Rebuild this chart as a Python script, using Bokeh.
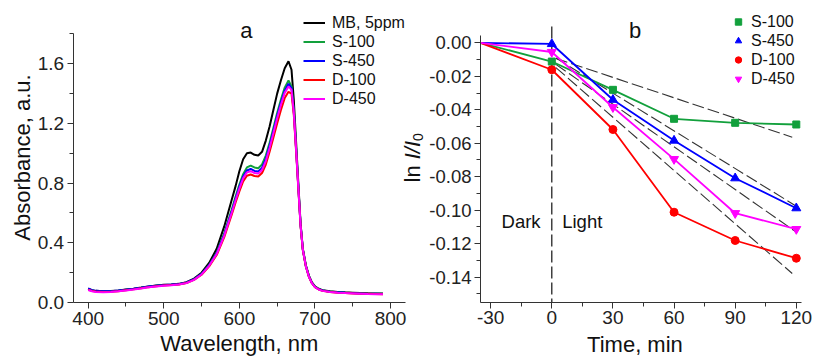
import math
from bokeh.plotting import figure
from bokeh.models import (Range1d, FixedTicker, NumeralTickFormatter, Label, Legend,
                          LegendItem, LinearAxis)
from bokeh.embed import file_html
from bokeh.resources import INLINE

# ---------------- Panel a data: UV-vis spectra ----------------
wavelength = [400, 405, 410, 420, 430, 440, 450, 460, 470, 480, 490, 500, 510, 520, 530, 540,
              550, 560, 570, 580, 585, 590, 595, 600, 605, 610, 615, 620, 625, 630, 635, 640,
              645, 650, 655, 660, 665, 669, 672, 675, 678, 681, 684, 688, 692, 696, 700, 705,
              710, 720, 730, 740, 750, 760, 770, 780, 790]
abs_mb = [0.092, 0.082, 0.078, 0.075, 0.077, 0.081, 0.087, 0.093, 0.100, 0.108,
          0.114, 0.119, 0.121, 0.125, 0.136, 0.160, 0.200, 0.265, 0.360, 0.510,
          0.600, 0.690, 0.780, 0.880, 0.960, 1.000, 1.005, 0.990, 0.985, 1.010,
          1.085, 1.180, 1.290, 1.400, 1.490, 1.570, 1.617, 1.560, 1.360, 1.080,
          0.800, 0.530, 0.360, 0.250, 0.180, 0.135, 0.108, 0.092, 0.083, 0.075,
          0.071, 0.068, 0.066, 0.064, 0.062, 0.061, 0.060]
abs_s100 = [0.090, 0.080, 0.076, 0.073, 0.075, 0.079, 0.085, 0.091, 0.098, 0.106,
            0.112, 0.117, 0.119, 0.123, 0.133, 0.155, 0.192, 0.252, 0.335, 0.465,
            0.545, 0.625, 0.710, 0.790, 0.860, 0.905, 0.918, 0.905, 0.900, 0.925,
            0.985, 1.070, 1.170, 1.270, 1.360, 1.440, 1.488, 1.450, 1.290, 1.040,
            0.780, 0.520, 0.355, 0.245, 0.176, 0.132, 0.106, 0.090, 0.081, 0.073,
            0.069, 0.066, 0.064, 0.062, 0.060, 0.059, 0.058]
abs_s450 = [0.094, 0.083, 0.078, 0.075, 0.076, 0.080, 0.086, 0.092, 0.099, 0.107,
            0.113, 0.118, 0.120, 0.124, 0.134, 0.156, 0.192, 0.250, 0.330, 0.455,
            0.535, 0.612, 0.695, 0.775, 0.845, 0.885, 0.895, 0.882, 0.878, 0.902,
            0.962, 1.050, 1.150, 1.250, 1.340, 1.420, 1.466, 1.435, 1.280, 1.035,
            0.775, 0.518, 0.354, 0.244, 0.175, 0.131, 0.105, 0.089, 0.080, 0.072,
            0.068, 0.065, 0.063, 0.061, 0.059, 0.058, 0.057]
abs_d100 = [0.086, 0.077, 0.073, 0.070, 0.072, 0.076, 0.082, 0.088, 0.095, 0.103,
            0.109, 0.114, 0.117, 0.121, 0.131, 0.152, 0.186, 0.242, 0.318, 0.438,
            0.515, 0.590, 0.670, 0.745, 0.812, 0.850, 0.858, 0.848, 0.845, 0.868,
            0.925, 1.010, 1.105, 1.200, 1.290, 1.370, 1.412, 1.400, 1.260, 1.020,
            0.765, 0.512, 0.350, 0.241, 0.172, 0.129, 0.103, 0.087, 0.078, 0.070,
            0.066, 0.063, 0.061, 0.059, 0.058, 0.057, 0.056]
abs_d450 = [0.084, 0.075, 0.071, 0.069, 0.071, 0.075, 0.081, 0.087, 0.094, 0.102,
            0.108, 0.113, 0.116, 0.120, 0.130, 0.152, 0.188, 0.246, 0.325, 0.448,
            0.527, 0.603, 0.685, 0.763, 0.832, 0.872, 0.880, 0.868, 0.864, 0.888,
            0.948, 1.035, 1.135, 1.235, 1.325, 1.405, 1.448, 1.425, 1.275, 1.030,
            0.772, 0.515, 0.352, 0.242, 0.173, 0.129, 0.103, 0.087, 0.078, 0.070,
            0.066, 0.063, 0.061, 0.059, 0.057, 0.056, 0.055]
spectra_labels = ["MB, 5ppm", "S-100", "S-450", "D-100", "D-450"]
wl_ticks = [400, 500, 600, 700, 800]
wl_minor = [450, 550, 650, 750]
abs_ticks = [0.0, 0.4, 0.8, 1.2, 1.6]
abs_minor = [0.2, 0.6, 1.0, 1.4, 1.8]

# ---------------- Panel b data: kinetics ----------------
time_min = [-35, 0, 30, 60, 90, 120]
ln_s100 = [0.0, -0.0112, -0.0281, -0.0454, -0.0478, -0.0488]
ln_s450 = [0.0, -0.0007, -0.0340, -0.0584, -0.0809, -0.0988]
ln_d100 = [0.0, -0.0161, -0.0518, -0.1012, -0.1181, -0.1287]
ln_d450 = [0.0, -0.0055, -0.0385, -0.0695, -0.1018, -0.1113]
kin_labels = ["S-100", "S-450", "D-100", "D-450"]
fit_t = [[2, 118], [2, 120], [2, 118], [2, 120]]
fit_s100 = [-0.0093, -0.0564]
fit_s450 = [-0.0091, -0.0976]
fit_d100 = [-0.0148, -0.1378]
fit_d450 = [-0.0129, -0.1131]
divider_t = [0, 0]
divider_ln = [0.0097, -0.1551]
t_ticks = [-30, 0, 30, 60, 90, 120]
t_minor = [-15, 15, 45, 75, 105]
ln_ticks = [0.0, -0.02, -0.04, -0.06, -0.08, -0.10, -0.12, -0.14]
ln_minor = [-0.01, -0.03, -0.05, -0.07, -0.09, -0.11, -0.13, -0.15]

# axis extents of the two panels
A_X = (380, 820)
A_Y = (0.0, 1.8)
B_X = (-35, 122.5)
B_Y = (-0.1551, 0.0044)

FONT = "Liberation Sans"
GREEN = "#12a03c"
colors_a = ["black", GREEN, "#0000ff", "#ff0000", "#ff00ff"]

# One canvas; the frame fills it. Panel a uses the default ranges, panel b the extra "b" ranges.
p = figure(width=813, height=356, output_backend="svg", toolbar_location=None,
           x_axis_type=None, y_axis_type=None,
           x_range=Range1d(283.96, 1359.65), y_range=Range1d(-0.3619, 2.0241),
           min_border_left=0, min_border_right=0, min_border_top=0, min_border_bottom=0)
p.extra_x_ranges = {"b": Range1d(-270.58, 128.44)}
p.extra_y_ranges = {"b": Range1d(-0.18740, 0.02527)}
p.outline_line_color = None
p.background_fill_color = "white"
p.border_fill_color = "white"


def make_axis(kind, ticks, minor, bounds, loc, size, fmt, rn=None):
    kw = {}
    if rn:
        kw = dict(x_range_name=rn, y_range_name=rn)
    ax = LinearAxis(ticker=FixedTicker(ticks=ticks, minor_ticks=minor), bounds=bounds,
                    fixed_location=loc, formatter=NumeralTickFormatter(format=fmt), **kw)
    ax.axis_line_color = "#333333"
    ax.major_tick_line_color = "#333333"
    ax.minor_tick_line_color = "#333333"
    ax.major_tick_in = 0
    ax.major_tick_out = 6
    ax.minor_tick_in = 0
    ax.minor_tick_out = 4
    ax.major_label_standoff = 3
    ax.major_label_text_font = FONT
    ax.major_label_text_font_size = size
    ax.major_label_text_color = "#222222"
    p.add_layout(ax, "below" if kind == "x" else "left")
    return ax


make_axis("x", wl_ticks, wl_minor, A_X, A_Y[0], "19px", "0")
make_axis("y", abs_ticks, abs_minor, A_Y, A_X[0], "19px", "0.0")
make_axis("x", t_ticks, t_minor, B_X, B_Y[0], "19px", "0", rn="b")
make_axis("y", ln_ticks, ln_minor, B_Y, B_X[0], "18.5px", "0.00", rn="b")


def add_text(x, y, text, size, angle=0.0, align="center", baseline="middle", style="normal", rn=None):
    kw = {}
    if rn:
        kw = dict(x_range_name=rn, y_range_name=rn)
    p.add_layout(Label(x=x, y=y, text=text, angle=angle, text_align=align,
                       text_baseline=baseline, text_font=FONT, text_font_size=size,
                       text_font_style=style, text_color="#111111", **kw))


# ---------------- Panel a ----------------
series_a = [abs_mb, abs_s100, abs_s450, abs_d100, abs_d450]
rends_a = [p.line(wavelength, ys, line_color=c, line_width=2) for ys, c in zip(series_a, colors_a)]

leg_a = Legend(items=[LegendItem(label=l, renderers=[r]) for l, r in zip(spectra_labels, rends_a)],
               location=(303, 248), glyph_width=22, glyph_height=19, label_height=19,
               label_standoff=7, spacing=0, padding=0, margin=0, border_line_color=None,
               background_fill_alpha=0, label_text_font=FONT, label_text_font_size="16px",
               label_text_color="#111111")
p.add_layout(leg_a)

add_text(609.2, 1.823, "a", "22px", baseline="alphabetic")
add_text(599.9, -0.278, "Wavelength, nm", "22px")
add_text(313.7, 0.972, "Absorbance, a.u.", "22px", angle=math.pi / 2)

# ---------------- Panel b ----------------
p.line(divider_t, divider_ln, line_color="#111111", line_width=1.2, line_dash="12 4",
       x_range_name="b", y_range_name="b")
for ft, fy in zip(fit_t, [fit_s100, fit_s450, fit_d100, fit_d450]):
    p.line(ft, fy, line_color="#333333", line_width=1.1, line_dash="12 4",
           x_range_name="b", y_range_name="b")

kin = [ln_s100, ln_s450, ln_d100, ln_d450]
kin_colors = [GREEN, "#0000ff", "#ff0000", "#ff00ff"]
kin_markers = ["square", "triangle", "circle", "inverted_triangle"]
kin_sizes = [7, 9, 8, 9]
rends_b = []
for ys, c, m, s in zip(kin, kin_colors, kin_markers, kin_sizes):
    p.line(time_min, ys, line_color=c, line_width=1.8, x_range_name="b", y_range_name="b")
    rends_b.append(p.scatter(time_min[1:], ys[1:], marker=m, size=s, fill_color=c, line_color=c,
                             x_range_name="b", y_range_name="b"))

leg_b = Legend(items=[LegendItem(label=l, renderers=[r]) for l, r in zip(kin_labels, rends_b)],
               location=(730, 268), glyph_width=16, glyph_height=19, label_height=19,
               label_standoff=5, spacing=0, padding=0, margin=0, border_line_color=None,
               background_fill_alpha=0, label_text_font=FONT, label_text_font_size="16px",
               label_text_color="#111111")
p.add_layout(leg_b)

add_text(40.9, 0.00735, "b", "22px", baseline="alphabetic", rn="b")
add_text(40.8, -0.1802, "Time, min", "22px", rn="b")
add_text(-5.5, -0.1066, "Dark", "18.5px", align="right", baseline="alphabetic", rn="b")
add_text(5.1, -0.1066, "Light", "18.5px", align="left", baseline="alphabetic", rn="b")
# y-axis label: ln I/I0 (I italic, 0 as subscript)
add_text(-68.4, -0.08345, "ln ", "22px", angle=math.pi / 2, align="left", rn="b")
add_text(-68.4, -0.0696, "I/I", "22px", angle=math.pi / 2, align="left", style="italic", rn="b")
add_text(-65.7, -0.05866, "0", "14px", angle=math.pi / 2, align="left", rn="b")

open("out.html", "w").write(file_html(p, INLINE))
